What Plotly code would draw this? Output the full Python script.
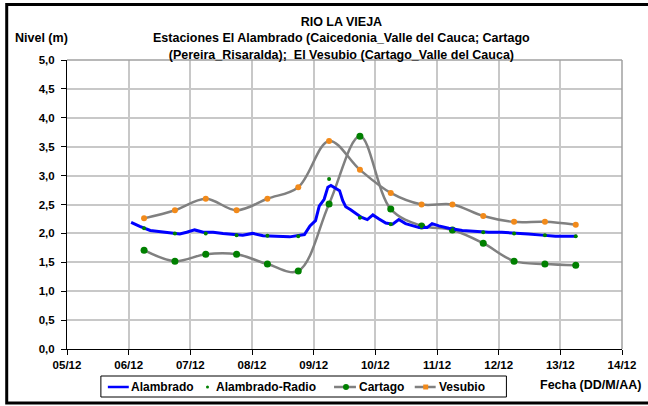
import plotly.graph_objects as go

# ---------------- data ----------------
tick_vals_x = [5, 6, 7, 8, 9, 10, 11, 12, 13, 14]
tick_text_x = ["05/12", "06/12", "07/12", "08/12", "09/12", "10/12", "11/12", "12/12", "13/12", "14/12"]
tick_vals_y = [0, 0.5, 1, 1.5, 2, 2.5, 3, 3.5, 4, 4.5, 5]
tick_text_y = ["0,0", "0,5", "1,0", "1,5", "2,0", "2,5", "3,0", "3,5", "4,0", "4,5", "5,0"]

# 12-hourly station readings
station_x = [6.25, 6.75, 7.25, 7.75, 8.25, 8.75, 9.25, 9.75, 10.25, 10.75,
             11.25, 11.75, 12.25, 12.75, 13.25]
vesubio = [2.26, 2.40, 2.60, 2.40, 2.60, 2.80, 3.60, 3.10, 2.70, 2.50,
           2.50, 2.30, 2.20, 2.20, 2.15]
cartago = [1.71, 1.52, 1.64, 1.64, 1.47, 1.35, 2.51, 3.68, 2.42, 2.13,
           2.06, 1.83, 1.52, 1.47, 1.45]
alambrado_radio = [2.09, 2.00, 2.00, 1.97, 1.96, 1.95, 2.94, 2.27, 2.16, 2.12,
                   2.06, 2.02, 2.00, 1.97, 1.95]

# Alambrado continuous record
alambrado_x = [6.04, 6.18, 6.35, 6.51, 6.67, 6.83, 6.94, 7.07, 7.21, 7.37,
               7.53, 7.69, 7.85, 8.01, 8.18, 8.39, 8.61, 8.85, 8.94, 9.03,
               9.09, 9.17, 9.23, 9.28, 9.36, 9.42, 9.47, 9.52, 9.60, 9.69,
               9.77, 9.87, 9.96, 10.06, 10.17, 10.28, 10.38, 10.49, 10.60, 10.71,
               10.84, 10.92, 11.03, 11.19, 11.41, 11.62, 11.84, 12.05, 12.27, 12.48,
               12.70, 12.92, 13.13, 13.27]
alambrado_y = [2.19, 2.12, 2.05, 2.03, 2.02, 1.99, 2.02, 2.06, 2.02, 2.02,
               2.00, 1.99, 1.97, 2.00, 1.96, 1.95, 1.94, 1.98, 2.13, 2.22,
               2.47, 2.59, 2.80, 2.83, 2.78, 2.74, 2.57, 2.46, 2.41, 2.34,
               2.28, 2.24, 2.32, 2.25, 2.18, 2.16, 2.24, 2.17, 2.13, 2.10,
               2.10, 2.17, 2.13, 2.09, 2.05, 2.03, 2.02, 2.02, 2.01, 1.99,
               1.97, 1.95, 1.95, 1.95]

title_lines = ["RIO LA VIEJA",
               "Estaciones El Alambrado (Caicedonia_Valle del Cauca; Cartago",
               "(Pereira_Risaralda);  El Vesubio (Cartago_Valle del Cauca)"]

# ---------------- layout helpers ----------------
W, H = 648, 406
L, R, T, B = 67, 624, 60, 349


def px2x(px):
    return (px - L) / (R - L)


def py2y(py):
    return (B - py) / (B - T)


FONT = "Liberation Sans, Arial, sans-serif"
GRAY = "#808080"
GREEN = "#008000"
ORANGE = "#f28a1a"
BLUE = "#0000ff"

fig = go.Figure()

fig.add_trace(go.Scatter(x=station_x, y=vesubio, mode="lines+markers", name="Vesubio",
                         line=dict(color=GRAY, width=2.5, shape="spline", smoothing=1),
                         marker=dict(color=ORANGE, size=6), showlegend=False))
fig.add_trace(go.Scatter(x=station_x, y=cartago, mode="lines+markers", name="Cartago",
                         line=dict(color=GRAY, width=2.5, shape="spline", smoothing=1),
                         marker=dict(color=GREEN, size=7), showlegend=False))
fig.add_trace(go.Scatter(x=alambrado_x, y=alambrado_y, mode="lines", name="Alambrado",
                         line=dict(color=BLUE, width=3), showlegend=False))
fig.add_trace(go.Scatter(x=station_x, y=alambrado_radio, mode="markers", name="Alambrado-Radio",
                         marker=dict(color=GREEN, size=4), showlegend=False))

shapes = []
annotations = []

# plot frame (top/right gray)
shapes.append(dict(type="line", xref="paper", yref="paper", x0=0, x1=1, y0=1, y1=1,
                   line=dict(color="#a0a0a0", width=1.5)))
shapes.append(dict(type="line", xref="paper", yref="paper", x0=1, x1=1, y0=0, y1=1,
                   line=dict(color="#a0a0a0", width=1.5)))
# outer chart border
shapes.append(dict(type="rect", xref="paper", yref="paper",
                   x0=px2x(6.5), x1=px2x(720), y0=py2y(403), y1=py2y(4.5),
                   line=dict(color="black", width=3)))

# legend box
shapes.append(dict(type="rect", xref="paper", yref="paper",
                   x0=px2x(101), x1=px2x(508), y0=py2y(397), y1=py2y(376),
                   line=dict(color="black", width=1), fillcolor="white"))
ly = py2y(387)
# Alambrado
shapes.append(dict(type="line", xref="paper", yref="paper", x0=px2x(108), x1=px2x(129),
                   y0=ly, y1=ly, line=dict(color=BLUE, width=2.5)))
# Alambrado-Radio dot
shapes.append(dict(type="circle", xref="paper", yref="paper",
                   x0=px2x(206.5), x1=px2x(209.5), y0=py2y(388.5), y1=py2y(385.5),
                   line=dict(width=0), fillcolor=GREEN))
# Cartago
shapes.append(dict(type="line", xref="paper", yref="paper", x0=px2x(335), x1=px2x(357),
                   y0=ly, y1=ly, line=dict(color=GRAY, width=2.5)))
shapes.append(dict(type="circle", xref="paper", yref="paper",
                   x0=px2x(344), x1=px2x(350), y0=py2y(390), y1=py2y(384),
                   line=dict(width=0), fillcolor=GREEN))
# Vesubio
shapes.append(dict(type="line", xref="paper", yref="paper", x0=px2x(416), x1=px2x(437),
                   y0=ly, y1=ly, line=dict(color=GRAY, width=2.5)))
shapes.append(dict(type="rect", xref="paper", yref="paper",
                   x0=px2x(424.5), x1=px2x(429.5), y0=py2y(389.5), y1=py2y(384.5),
                   line=dict(width=0), fillcolor=ORANGE))

for txt, xpx in [("Alambrado", 129), ("Alambrado-Radio", 215), ("Cartago", 358), ("Vesubio", 438)]:
    annotations.append(dict(text=f"<b>{txt}</b>", xref="paper", yref="paper",
                            x=px2x(xpx), y=ly, xanchor="left", yanchor="middle",
                            showarrow=False, font=dict(family=FONT, size=12, color="black")))

# title block (one text, three lines)
annotations.append(dict(text="<br>".join(f"<b>{t}</b>" for t in title_lines),
                        xref="paper", yref="paper", align="center",
                        x=px2x(342), y=py2y(38.5), xanchor="center", yanchor="middle",
                        showarrow=False, font=dict(family=FONT, size=12.5, color="black")))
annotations.append(dict(text="<b>Nivel (m)</b>", xref="paper", yref="paper",
                        x=px2x(13), y=py2y(38), xanchor="left", yanchor="middle",
                        showarrow=False, font=dict(family=FONT, size=12.5, color="black")))
annotations.append(dict(text="<b>Fecha (DD/M/AA)</b>", xref="paper", yref="paper",
                        x=px2x(645), y=py2y(385), xanchor="right", yanchor="middle",
                        showarrow=False, font=dict(family=FONT, size=12.5, color="black")))

fig.update_layout(
    width=W, height=H,
    margin=dict(l=L, r=W - R, t=T, b=H - B, pad=0),
    paper_bgcolor="white", plot_bgcolor="white",
    showlegend=False,
    shapes=shapes, annotations=annotations,
    font=dict(family=FONT, color="black"),
    xaxis=dict(range=[5, 14], tickmode="array", tickvals=tick_vals_x,
               ticktext=[f"<b>{t}</b>" for t in tick_text_x],
               showgrid=True, gridcolor="#c8c8c8", gridwidth=1.5,
               showline=True, linecolor="black", linewidth=1,
               ticks="outside", ticklen=5, tickcolor="black",
               tickfont=dict(family=FONT, size=11.5, color="black"),
               zeroline=False, fixedrange=True),
    yaxis=dict(range=[0, 5], tickmode="array", tickvals=tick_vals_y,
               ticktext=[f"<b>{t}</b>" for t in tick_text_y],
               showgrid=True, gridcolor="#c8c8c8", gridwidth=1.5,
               showline=True, linecolor="black", linewidth=1,
               ticks="outside", ticklen=5, tickcolor="black",
               ticklabelstandoff=4,
               tickfont=dict(family=FONT, size=11.5, color="black"),
               zeroline=False, fixedrange=True),
)

fig.write_html("out.html", config={"displayModeBar": False},
               post_script="document.body.style.margin='0';document.body.style.overflow='hidden';")
